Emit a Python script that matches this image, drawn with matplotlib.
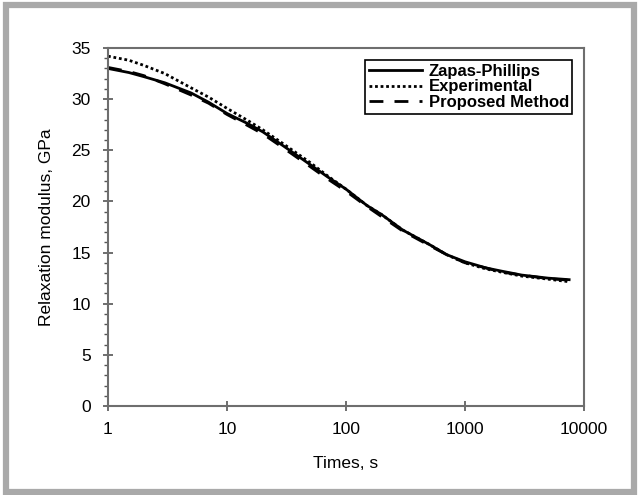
import numpy as np
import matplotlib
matplotlib.use("Agg")
import matplotlib.pyplot as plt
from matplotlib.patches import Rectangle
from matplotlib.ticker import FixedLocator, MultipleLocator

plt.rcParams['font.family'] = ['Liberation Sans', 'DejaVu Sans']

# data
times = [1, 1.5, 2, 3, 5, 7, 10, 15, 20, 30, 50, 70, 100, 150, 200, 300,
         500, 700, 1000, 1500, 2000, 3000, 5000, 7500]
zapas = [33.0, 32.6, 32.2, 31.6, 30.6, 29.7, 28.6, 27.6, 26.8, 25.4, 23.6,
         22.4, 21.2, 19.6, 18.7, 17.2, 15.8, 14.8, 14.1, 13.5, 13.2, 12.8,
         12.5, 12.35]
experimental = [34.2, 33.8, 33.3, 32.5, 31.1, 30.2, 29.1, 27.9, 27.0, 25.6,
                23.8, 22.5, 21.2, 19.6, 18.7, 17.2, 15.8, 14.8, 14.0, 13.4,
                13.1, 12.7, 12.4, 12.15]
proposed = [33.1, 32.7, 32.3, 31.5, 30.4, 29.6, 28.5, 27.4, 26.6, 25.2, 23.4,
            22.2, 21.0, 19.5, 18.5, 17.1, 15.7, 14.8, 14.0, 13.5, 13.1, 12.8,
            12.45, 12.3]

x_ticks = [1, 10, 100, 1000, 10000]
x_labels = ['1', '10', '100', '1000', '10000']

fig = plt.figure(figsize=(6.39, 4.95), dpi=100)

# grey frame around the whole picture
fig.patches.append(Rectangle((5.5 / 639, 3 / 495), 628 / 639, 487 / 495,
                             transform=fig.transFigure, fill=False,
                             edgecolor='#a9a9a9', linewidth=4.5))

ax = fig.add_axes([108 / 639, 1 - 406 / 495, 476 / 639, 358 / 495])

ax.plot(times, zapas, color='black', linewidth=2.0, label='Zapas-Phillips')
ax.plot(times, experimental, color='black', linewidth=2.0, linestyle=(0, (1, 1)),
        label='Experimental')
ax.plot(times, proposed, color='black', linewidth=2.0, linestyle=(0, (5, 4)),
        label='Proposed Method')

ax.set_xscale('log')
ax.set_xlim(1, 10000)
ax.set_ylim(0, 35)
ax.xaxis.set_major_locator(FixedLocator(x_ticks))
ax.xaxis.set_minor_locator(FixedLocator([]))
ax.set_xticklabels(x_labels)
ax.yaxis.set_major_locator(MultipleLocator(5))
ax.yaxis.set_minor_locator(MultipleLocator(1))

for s in ax.spines.values():
    s.set_color('#6e6e6e')
    s.set_linewidth(1.5)

ax.tick_params(axis='both', which='major', direction='inout', length=7,
               width=1.2, color='#555555', labelsize=12.5)
ax.tick_params(axis='y', which='minor', direction='out', length=3,
               width=1.0, color='#555555')
ax.tick_params(axis='x', which='major', pad=8)
ax.tick_params(axis='y', which='major', pad=9)

ax.set_xlabel('Times, s', fontsize=12.5, labelpad=14)
ax.set_ylabel('Relaxation modulus, GPa', fontsize=12.5, labelpad=12)

leg = ax.legend(loc='upper right', bbox_to_anchor=(0.993, 0.989),
                prop={'size': 12, 'weight': 'bold'}, handlelength=3.2,
                handletextpad=0.4, borderpad=0.2, labelspacing=0.05,
                fancybox=False, framealpha=1)
leg.get_frame().set_edgecolor('black')
leg.get_frame().set_linewidth(1.2)

fig.savefig('out.png', dpi=100)
